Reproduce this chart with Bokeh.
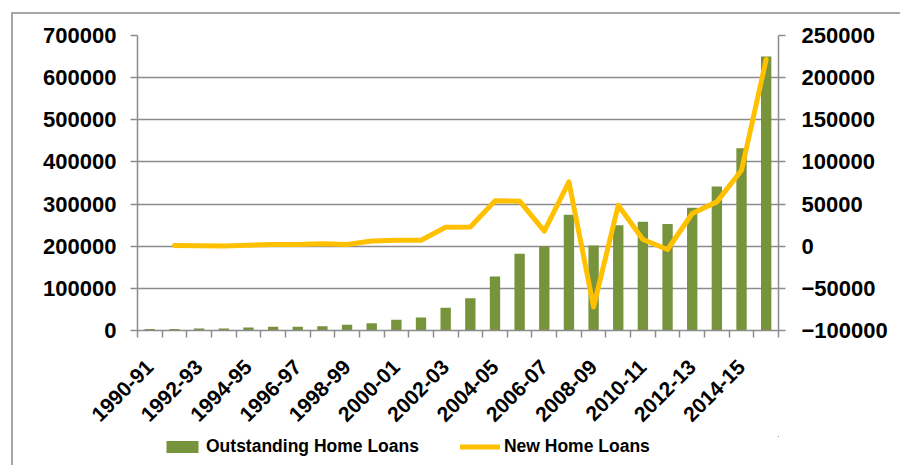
import math
from bokeh.plotting import figure
from bokeh.layouts import column
from bokeh.models import (Range1d, LinearAxis, FixedTicker, BasicTickFormatter,
                          Legend, LegendItem, ColumnDataSource)
from bokeh.embed import file_html
from bokeh.resources import INLINE

years = ["1990-91", "1991-92", "1992-93", "1993-94", "1994-95", "1995-96", "1996-97",
         "1997-98", "1998-99", "1999-00", "2000-01", "2001-02", "2002-03", "2003-04",
         "2004-05", "2005-06", "2006-07", "2007-08", "2008-09", "2009-10", "2010-11",
         "2011-12", "2012-13", "2013-14", "2014-15", "2015-16"]
outstanding = [3500, 3800, 4500, 4800, 7000, 8700, 9000, 10200, 13500, 17400, 25300,
               30900, 53800, 76700, 128000, 182000, 199300, 274500, 201700, 250000,
               258000, 253000, 291000, 341700, 432600, 650000]
new_loans = [float("nan"), 800, 600, 200, 1200, 2000, 2000, 2800, 2000, 6300, 7100, 7100,
             22500, 22900, 53800, 53400, 17800, 76300, -72000, 48600, 7900, -3900,
             38800, 52600, 90200, 221500]
left_ticks = [0, 100000, 200000, 300000, 400000, 500000, 600000, 700000]
right_ticks = [-100000, -50000, 0, 50000, 100000, 150000, 200000, 250000]
series_names = ["Outstanding Home Loans", "New Home Loans"]

BAR_COLOR = "#77933C"
LINE_COLOR = "#FFC000"
GRAY = "#8c8c8c"
FONT = "Liberation Sans"

xpos = [i + 0.5 for i in range(len(years))]
src = ColumnDataSource(dict(x=xpos, out=outstanding, new=new_loans))

W = 887
H1, H2 = 422, 29
p = figure(width=W, height=H1, output_backend="svg", toolbar_location=None,
           x_range=Range1d(0, len(years)), y_range=Range1d(0, 700000),
           min_border_left=124, min_border_right=122, min_border_top=21,
           min_border_bottom=H1 - 21 - 295)
p.extra_y_ranges = {"right": Range1d(-100000, 250000)}
p.outline_line_color = None
p.background_fill_color = "white"

bar_kw = dict(x="x", top="out", bottom=0, width=0.42, source=src,
              fill_color=BAR_COLOR, line_color=None)
line_kw = dict(x="x", y="new", source=src, line_color=LINE_COLOR, line_width=5,
               line_join="round", line_cap="round")
p.vbar(**bar_kw)
p.line(y_range_name="right", **line_kw)

# grid
p.xgrid.visible = False
p.ygrid.ticker = FixedTicker(ticks=left_ticks)
p.ygrid.grid_line_color = GRAY
p.ygrid.grid_line_width = 1.5


def style_axis(ax, standoff):
    ax.axis_line_color = GRAY
    ax.axis_line_width = 1.5
    ax.major_tick_line_color = GRAY
    ax.major_tick_line_width = 1.5
    ax.major_tick_out = 7
    ax.major_tick_in = 0
    ax.minor_tick_line_color = None
    ax.major_label_standoff = standoff
    ax.major_label_text_font = FONT
    ax.major_label_text_font_style = "bold"
    ax.major_label_text_font_size = "22px"
    ax.major_label_text_color = "black"


la = p.yaxis[0]
la.ticker = FixedTicker(ticks=left_ticks)
la.formatter = BasicTickFormatter(use_scientific=False)
style_axis(la, 14)

ra = LinearAxis(y_range_name="right", ticker=FixedTicker(ticks=right_ticks),
                formatter=BasicTickFormatter(use_scientific=False))
style_axis(ra, 16)
p.add_layout(ra, "right")

xa = p.xaxis[0]
label_pos = xpos[::2]
xa.ticker = FixedTicker(ticks=label_pos, minor_ticks=list(range(len(years) + 1)))
xa.major_label_overrides = {pos: lab for pos, lab in zip(label_pos, years[::2])}
style_axis(xa, 26)
xa.major_tick_out = 0
xa.minor_tick_out = 7
xa.minor_tick_in = 0
xa.minor_tick_line_color = GRAY
xa.minor_tick_line_width = 1.5
xa.major_label_orientation = math.pi / 4
xa.major_label_text_font_size = "21px"

# legend strip (same series, placed far outside its visible range, only the legend shows)
p2 = figure(width=W, height=H2, output_backend="svg", toolbar_location=None,
            x_range=Range1d(-1000, -999), y_range=Range1d(-3e7, -2e7),
            x_axis_location=None, y_axis_location=None,
            min_border=0, min_border_left=0, min_border_right=0,
            min_border_top=0, min_border_bottom=0)
p2.outline_line_color = None
p2.xgrid.visible = False
p2.ygrid.visible = False
r_bar = p2.vbar(**bar_kw)
r_line = p2.line(**line_kw)
legend = Legend(items=[LegendItem(label=series_names[0], renderers=[r_bar]),
                       LegendItem(label=series_names[1], renderers=[r_line])],
                orientation="horizontal", location=(25, 8),
                border_line_color=None, background_fill_alpha=0,
                padding=0, margin=0, spacing=41, label_standoff=4,
                glyph_width=40, glyph_height=15, label_height=20,
                label_text_font=FONT, label_text_font_style="bold",
                label_text_font_size="17.5px", label_text_color="black")
p2.add_layout(legend, "center")

layout = column(p, p2, spacing=0,
                styles={"margin-left": "11px", "margin-top": "12px",
                        "border-left": "2px solid #a6a6a6",
                        "border-top": "2px solid #a6a6a6"})

open("out.html", "w").write(file_html(layout, INLINE))
